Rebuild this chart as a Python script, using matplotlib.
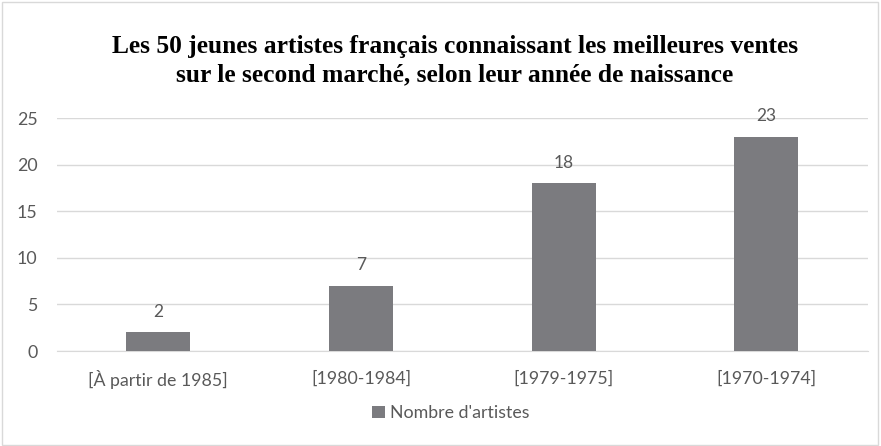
import matplotlib
matplotlib.use('Agg')
import matplotlib.pyplot as plt
from matplotlib.patches import Rectangle

categories = ['[À partir de 1985]', '[1980-1984]', '[1979-1975]', '[1970-1974]']
values = [2, 7, 18, 23]
series_name = "Nombre d'artistes"
title = ("Les 50 jeunes artistes français connaissant les meilleures ventes\n"
         "sur le second marché, selon leur année de naissance")

bar_color = '#7b7b7f'
text_color = '#595959'
grid_color = '#d9d9d9'

plt.rcParams['font.family'] = ['Lato', 'DejaVu Sans']

fig = plt.figure(figsize=(8.81, 4.46), dpi=100)
ax = fig.add_axes([0.0647, 0.213, 0.9203, 0.522])

x = range(len(categories))
bars = ax.bar(x, values, width=0.316, color=bar_color, zorder=3, label=series_name)

# value labels above the bars
for b, v in zip(bars, values):
    ax.annotate(str(v), (b.get_x() + b.get_width() / 2, v), xytext=(0, 9),
                textcoords='offset points', ha='center', va='bottom',
                fontsize=12.5, color=text_color)

ax.set_xlim(-0.5, len(categories) - 0.5)
ax.set_ylim(0, 25)
ax.set_yticks(range(0, 26, 5))
ax.set_xticks(list(x))
ax.set_xticklabels(categories)
ax.yaxis.grid(True, color=grid_color, linewidth=1, zorder=0)
ax.tick_params(axis='both', length=0, labelsize=12.8, colors=text_color)
ax.tick_params(axis='y', pad=14)
ax.tick_params(axis='x', pad=14)
for side in ['top', 'right', 'left']:
    ax.spines[side].set_visible(False)
ax.spines['bottom'].set_color(grid_color)

fig.text(0.516, 0.865, title, ha='center', va='center', fontsize=18.4,
         fontweight='bold', family='Liberation Serif', linespacing=1.3)

fig.legend(handles=[bars], labels=[series_name], loc='center',
           bbox_to_anchor=(0.512, 0.073), frameon=False, fontsize=12.8,
           handlelength=0.7, handleheight=0.7, handletextpad=0.3,
           labelcolor=text_color)

# light frame around the whole chart
fig.patches.append(Rectangle((0.002, 0.003), 0.995, 0.993, transform=fig.transFigure,
                             fill=False, edgecolor='#d9d9d9', linewidth=1))

fig.savefig('out.png', dpi=100)
